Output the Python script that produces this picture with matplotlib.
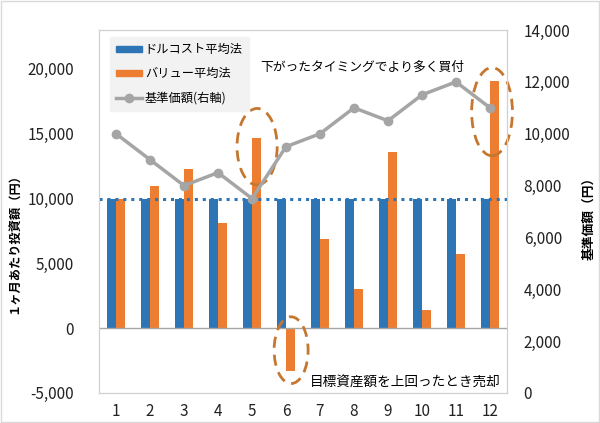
import numpy as np
import matplotlib.pyplot as plt
from matplotlib.patches import Ellipse, Patch
from matplotlib.lines import Line2D

plt.rcParams['font.family'] = ['Noto Sans CJK JP', 'DejaVu Sans']

months = list(range(1, 13))
dollar_cost = [10000] * 12
value_avg = [10000, 11000, 12300, 8100, 14700, -3300, 6850, 3000, 13600, 1400, 5700, 19100]
nav = [10000, 9000, 8000, 8500, 7500, 9500, 10000, 11000, 10500, 11500, 12000, 11000]

BLUE = "#2E75B6"
ORANGE = "#ED7D31"
GRAY = "#A5A5A5"
RING = "#C5772F"

fig = plt.figure(figsize=(6.0, 4.23), dpi=100)
ax = fig.add_axes([0.165, 0.071, 0.68, 0.858])
ax2 = ax.twinx()

x = np.array(months)
w = 0.27
ax.bar(x - 0.14, dollar_cost, width=w, color=BLUE, zorder=2)
ax.bar(x + 0.14, value_avg, width=w, color=ORANGE, zorder=2)
ax.axhline(0, color="#A6A6A6", lw=1, zorder=3)
ax.axhline(10000, color=BLUE, lw=2.2, ls=(0, (1, 1.6)), zorder=3)

ax2.plot(x, nav, color=GRAY, lw=2.5, marker="o", ms=6, zorder=4)

ax.set_xlim(0.5, 12.5)
ax.set_ylim(-5000, 23000)
ax.set_yticks(range(-5000, 20001, 5000))
ax.set_yticklabels([f"{v:,}" for v in range(-5000, 20001, 5000)])
ax2.set_ylim(0, 14000)
ax2.set_yticks(range(0, 14001, 2000))
ax2.set_yticklabels([f"{v:,}" for v in range(0, 14001, 2000)])
ax.set_xticks(months)

for a in (ax, ax2):
    a.tick_params(length=0, labelsize=11, colors="#222222")
    for s in a.spines.values():
        s.set_color("#D0D0D0")
ax.tick_params(axis="y", pad=18)
ax.tick_params(axis="x", pad=7)
ax2.tick_params(axis="y", pad=12)

ax.set_ylabel("１ヶ月あたり投資額（円）", fontsize=8.8, fontweight="bold")
ax.yaxis.set_label_coords(-0.19, 0.42)
ax2.set_ylabel("基準価額（円）", fontsize=9.2, fontweight="bold")
ax2.yaxis.set_label_coords(1.185, 0.49)

# dashed rings
for cx, cy, ew, eh in [(5.15, 14000, 1.18, 5900), (12.06, 16700, 1.2, 6800), (6.15, -1700, 1.0, 5150)]:
    ax.add_patch(Ellipse((cx, cy), ew, eh, fill=False, ec=RING, lw=2,
                         ls=(0, (4, 2.5)), zorder=5, clip_on=False))

ax.text(5.25, 20100, "下がったタイミングでより多く買付", fontsize=9.2, va="center", zorder=6)
ax.text(12.3, -4200, "目標資産額を上回ったとき売却", fontsize=9.8, va="center", ha="right", zorder=6)

handles = [
    Patch(color=BLUE, label="ドルコスト平均法"),
    Patch(color=ORANGE, label="バリュー平均法"),
    Line2D([0], [0], color=GRAY, lw=2.5, marker="o", ms=6, label="基準価額(右軸)"),
]
leg = ax2.legend(handles=handles, loc="upper left", bbox_to_anchor=(0.027, 0.98),
                 fontsize=8.8, frameon=True, fancybox=False, handlelength=2.1,
                 handleheight=0.45, labelspacing=0.9, borderpad=0.5, handletextpad=0.25,
                 borderaxespad=0)
leg.get_frame().set_facecolor("#F2F2F2")
leg.get_frame().set_edgecolor("#F2F2F2")
leg.get_frame().set_alpha(1)

fig.patches.append(plt.Rectangle((0.002, 0.002), 0.996, 0.996, transform=fig.transFigure,
                                 fill=False, ec="#D9D9D9", lw=1))

fig.savefig("out.png", dpi=100)
